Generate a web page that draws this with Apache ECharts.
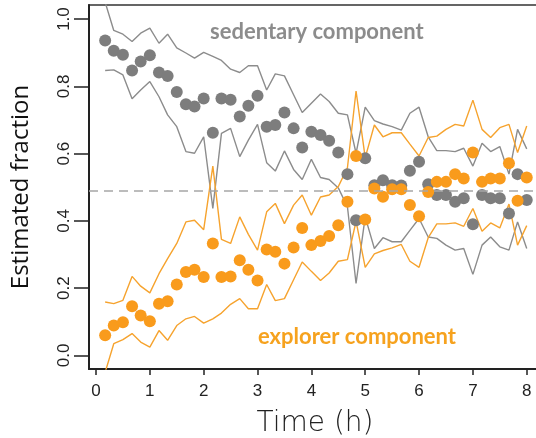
<!DOCTYPE html>
<html>
<head>
<meta charset="utf-8">
<script src="https://cdn.jsdelivr.net/npm/echarts@6/dist/echarts.min.js"></script>
<style>
  html, body { margin: 0; padding: 0; background: #fff; }
  #chart { width: 536px; height: 438px; }
</style>
</head>
<body>
<div id="chart"></div>
<script>
// time points (h), one every 10 minutes
const times = [0.17, 0.33, 0.5, 0.67, 0.83, 1, 1.17, 1.33, 1.5, 1.67, 1.83, 2,
  2.17, 2.33, 2.5, 2.67, 2.83, 3, 3.17, 3.33, 3.5, 3.67, 3.83, 4,
  4.17, 4.33, 4.5, 4.67, 4.83, 5, 5.17, 5.33, 5.5, 5.67, 5.83, 6,
  6.17, 6.33, 6.5, 6.67, 6.83, 7, 7.17, 7.33, 7.5, 7.67, 7.83, 8]

// sedentary component (grey)
const sedentary = [0.936, 0.906, 0.894, 0.847, 0.874, 0.892, 0.841, 0.831, 0.783, 0.747, 0.740, 0.764,
  0.662, 0.764, 0.760, 0.710, 0.742, 0.772, 0.680, 0.685, 0.722, 0.675, 0.618, 0.665,
  0.655, 0.638, 0.603, 0.539, 0.402, 0.586, 0.506, 0.521, 0.506, 0.505, 0.549, 0.576,
  0.509, 0.477, 0.477, 0.457, 0.467, 0.390, 0.477, 0.467, 0.467, 0.422, 0.539, 0.462]
const sedentaryUpper = [1.05, 0.966, 0.955, 0.933, 0.958, 0.973, 0.928, 0.955, 0.914, 0.899, 0.884, 0.901,
  0.889, 0.877, 0.851, 0.841, 0.861, 0.861, 0.789, 0.837, 0.831, 0.775, 0.722, 0.750,
  0.777, 0.755, 0.720, 0.715, 0.601, 0.738, 0.698, 0.688, 0.680, 0.670, 0.720, 0.738,
  0.650, 0.609, 0.609, 0.606, 0.616, 0.563, 0.631, 0.606, 0.621, 0.539, 0.672, 0.614]
const sedentaryLower = [0.847, 0.849, 0.834, 0.763, 0.789, 0.814, 0.769, 0.715, 0.680, 0.606, 0.601, 0.650,
  0.437, 0.660, 0.675, 0.591, 0.640, 0.687, 0.573, 0.548, 0.608, 0.553, 0.523, 0.583,
  0.529, 0.523, 0.498, 0.442, 0.214, 0.412, 0.318, 0.350, 0.338, 0.338, 0.372, 0.407,
  0.352, 0.348, 0.328, 0.313, 0.318, 0.241, 0.328, 0.352, 0.323, 0.313, 0.397, 0.318]

// explorer component (orange)
const explorer = [0.060, 0.089, 0.099, 0.146, 0.119, 0.102, 0.154, 0.161, 0.211, 0.248, 0.255, 0.233,
  0.333, 0.233, 0.235, 0.283, 0.255, 0.223, 0.315, 0.308, 0.273, 0.321, 0.379, 0.328,
  0.340, 0.355, 0.387, 0.457, 0.593, 0.404, 0.496, 0.472, 0.494, 0.494, 0.447, 0.414,
  0.486, 0.516, 0.516, 0.539, 0.526, 0.603, 0.516, 0.526, 0.526, 0.571, 0.460, 0.529]
const explorerUpper = [0.159, 0.154, 0.164, 0.235, 0.206, 0.186, 0.243, 0.288, 0.333, 0.397, 0.402, 0.374,
  0.563, 0.345, 0.333, 0.412, 0.360, 0.313, 0.427, 0.452, 0.392, 0.447, 0.477, 0.417,
  0.471, 0.477, 0.502, 0.558, 0.786, 0.588, 0.685, 0.650, 0.662, 0.662, 0.628, 0.593,
  0.648, 0.652, 0.672, 0.687, 0.682, 0.759, 0.672, 0.648, 0.677, 0.687, 0.603, 0.682]
const explorerLower = [-0.05, 0.035, 0.047, 0.065, 0.040, 0.025, 0.074, 0.045, 0.089, 0.109, 0.116, 0.096,
  0.109, 0.126, 0.152, 0.169, 0.139, 0.139, 0.211, 0.163, 0.169, 0.225, 0.278, 0.250,
  0.223, 0.245, 0.280, 0.285, 0.399, 0.262, 0.302, 0.312, 0.320, 0.330, 0.280, 0.262,
  0.350, 0.391, 0.391, 0.394, 0.384, 0.437, 0.369, 0.394, 0.379, 0.450, 0.328, 0.386]

const xTicks = [0, 1, 2, 3, 4, 5, 6, 7, 8]
const yTicks = [0, 0.2, 0.4, 0.6, 0.8, 1.0]
const threshold = 0.49

const grey = '#7d7d7d'
const greyLine = '#8c8c8c'
const orange = '#f99b1c'
const orangeLine = '#f6a32e'

function pairs(vals) {
  return times.map((t, i) => [t, vals[i]])
}

function ciLine(vals, color) {
  return {
    type: 'line',
    data: pairs(vals),
    showSymbol: false,
    silent: true,
    lineStyle: { color, width: 1.4 },
    z: 2
  }
}

function dots(vals, color, z) {
  return {
    type: 'scatter',
    data: pairs(vals),
    symbolSize: 12,
    itemStyle: { color, opacity: 1 },
    z
  }
}

const chartDom = document.getElementById('chart')
const chart = echarts.init(chartDom, null, { renderer: 'canvas' })

const option = {
  animation: false,
  grid: {
    left: 89, top: 5, width: 452, height: 364,
    outerBoundsMode: 'none',
    show: true, borderColor: '#333', borderWidth: 1.5
  },
  xAxis: {
    type: 'value',
    min: -0.13, max: 8.265,
    name: 'Time (h)',
    nameLocation: 'middle',
    nameGap: 41,
    nameMoveOverlap: false,
    nameTextStyle: { fontFamily: 'DejaVu Sans', fontWeight: 200, fontSize: 28, color: '#222' },
    axisLine: { show: true, onZero: false, lineStyle: { color: '#222', width: 2 } },
    axisTick: { show: true, customValues: xTicks, length: 6, lineStyle: { color: '#222', width: 1.5 } },
    axisLabel: { customValues: xTicks, margin: 14, fontFamily: 'Liberation Sans', fontSize: 17, color: '#222' },
    splitLine: { show: false }
  },
  yAxis: {
    type: 'value',
    min: -0.0402, max: 1.0417,
    name: 'Estimated fraction',
    nameLocation: 'middle',
    nameGap: 56,
    nameMoveOverlap: false,
    nameTextStyle: { fontFamily: 'Open Sans', fontSize: 24, color: '#111' },
    axisLine: { show: true, onZero: false, lineStyle: { color: '#222', width: 2 } },
    axisTick: { show: true, customValues: yTicks, length: 15, lineStyle: { color: '#222', width: 1.5 } },
    axisLabel: {
      customValues: yTicks, rotate: 90, margin: 16,
      align: 'center', verticalAlign: 'bottom',
      fontFamily: 'Liberation Sans', fontSize: 17, color: '#222',
      formatter: v => v.toFixed(1)
    },
    splitLine: { show: false }
  },
  graphic: [
    {
      type: 'text', left: 210, top: 21,
      style: { text: 'sedentary component', fontFamily: 'Lato', fontWeight: 'bold', fontSize: 22, fill: '#8c8c8c' }
    },
    {
      type: 'text', left: 258, top: 326,
      style: { text: 'explorer component', fontFamily: 'Lato', fontWeight: 'bold', fontSize: 22, fill: '#f6a21e' }
    }
  ],
  series: [
    {
      type: 'line',
      data: [],
      markLine: {
        silent: true,
        symbol: 'none',
        label: { show: false },
        lineStyle: { color: '#a6a6a6', width: 1.5, type: [9, 6] },
        data: [{ yAxis: threshold }]
      }
    },
    ciLine(sedentaryUpper, greyLine),
    ciLine(sedentaryLower, greyLine),
    ciLine(explorerUpper, orangeLine),
    ciLine(explorerLower, orangeLine),
    dots(sedentary, grey, 3),
    dots(explorer, orange, 4)
  ]
}

option && chart.setOption(option)
</script>
</body>
</html>
